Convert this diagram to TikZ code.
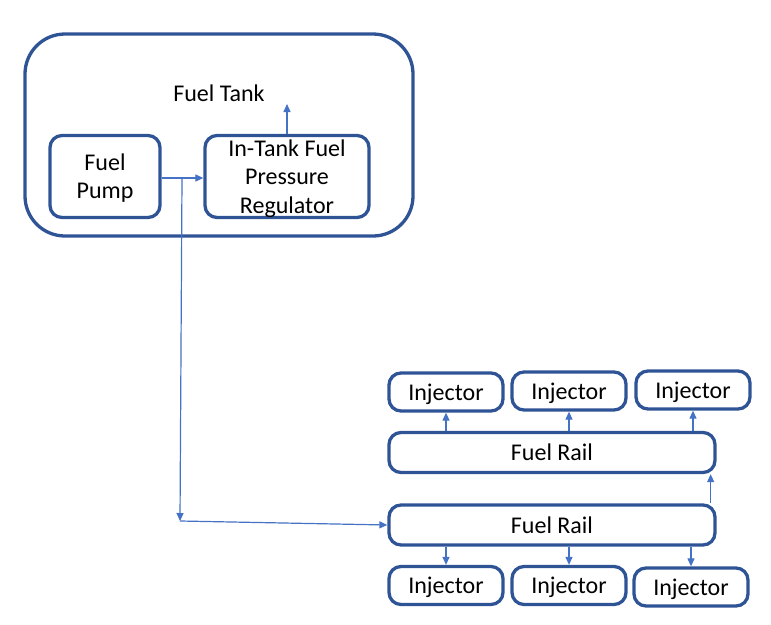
\documentclass[tikz,border=0pt]{standalone}
\usepackage{fontspec}
\setmainfont{Carlito}
\usetikzlibrary{arrows.meta,positioning}
\definecolor{boxblue}{RGB}{47,84,150}
\definecolor{flowblue}{RGB}{68,114,196}

\begin{document}
\begin{tikzpicture}[x=1pt,y=-1pt,
    part/.style={draw=boxblue,line width=3.3pt,rounded corners=12pt,inner sep=0pt,align=center,text depth=0pt,font=\fontsize{24}{28.3}\selectfont},
    flow/.style={draw=flowblue,line width=1.2pt,-{Triangle[width=7pt,length=8pt]}}]
        \useasboundingbox (0,0) rectangle (771,624);
        \node [part,rounded corners=40pt,minimum width=388pt,minimum height=202pt] (tank) at (219,135) {};
        \node [font=\fontsize{24}{29}\selectfont] (tanklabel) at (219,93) {Fuel Tank};
        \node [part,minimum width=110pt,minimum height=82pt] (pump) at (105,176.5) {Fuel\\Pump};
        \node [part,minimum width=164pt,minimum height=82pt] (reg) at (287,176.5) {In-Tank Fuel\\Pressure\\Regulator};
        \coordinate (vent) at (287,104);
        \coordinate (split) at (182,178);
        \coordinate (bend) at (180,521);
        \node [part,minimum width=326pt,minimum height=40pt] (railA) at (552,452.5) {Fuel Rail};
        \node [part,minimum width=326pt,minimum height=40pt] (railB) at (552,525) {Fuel Rail};
        \node [part,minimum width=114pt,minimum height=38pt] (injA1) at (446,392) {Injector};
        \node [part,minimum width=114pt,minimum height=38pt] (injA2) at (569,391) {Injector};
        \node [part,minimum width=114pt,minimum height=38pt] (injA3) at (693,390) {Injector};
        \node [part,minimum width=114pt,minimum height=38pt] (injB1) at (446,585.5) {Injector};
        \node [part,minimum width=114pt,minimum height=38pt] (injB2) at (569,585.5) {Injector};
        \node [part,minimum width=114pt,minimum height=38pt] (injB3) at (691,587) {Injector};
        \draw [flow] (reg.north) -- (vent);
        \draw [flow] (pump.east |- split) -- (reg.west |- split);
        \draw [flow] (split) -- (bend);
        \draw [flow] (bend) -- (railB.west);
        \draw [flow] ([xshift=-6pt]railB.north east) -- ([xshift=-6pt]railA.south east);
        \draw [flow] (railA.north -| injA1) -- (injA1.south);
        \draw [flow] (railA.north -| injA2) -- (injA2.south);
        \draw [flow] (railA.north -| injA3) -- (injA3.south);
        \draw [flow] (railB.south -| injB1) -- (injB1.north);
        \draw [flow] (railB.south -| injB2) -- (injB2.north);
        \draw [flow] (railB.south -| injB3) -- (injB3.north);
    \end{tikzpicture}
\end{document}
